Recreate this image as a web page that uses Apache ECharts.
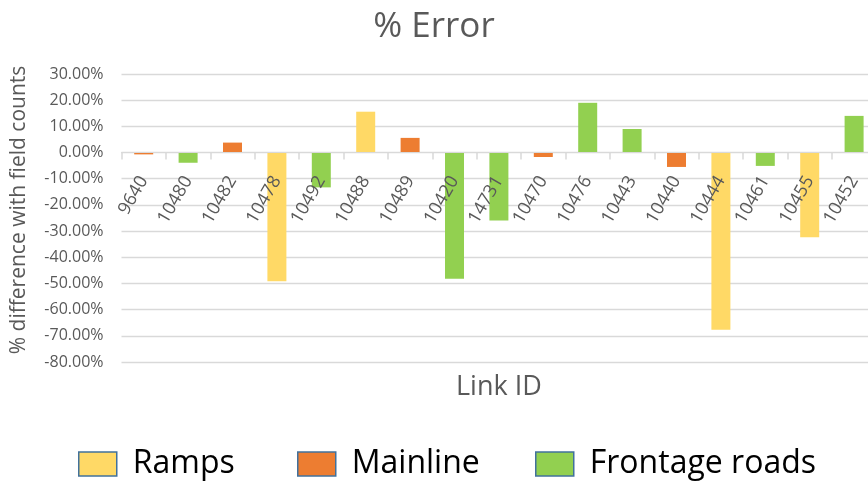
<!DOCTYPE html>
<html>
	<head>
		<meta charset="UTF-8">
		<title>% Error</title>
		<script type="text/javascript" src="https://cdn.jsdelivr.net/npm/echarts@6/dist/echarts.min.js"></script>
	</head>
	<body style="margin:0">
		<div id="main" style="width: 868px;height: 487px;"></div>
		<script type="text/javascript">
			// link ids along the x axis
			var linkIds = ['9640', '10480', '10482', '10478', '10492', '10488', '10489', '10420', '14731',
				'10470', '10476', '10443', '10440', '10444', '10461', '10455', '10452'];
			// road type of each link: R = Ramps, M = Mainline, F = Frontage roads
			var linkTypes = ['M', 'F', 'M', 'R', 'F', 'R', 'M', 'F', 'F', 'M', 'F', 'F', 'M', 'R', 'F', 'R', 'F'];
			// % difference with field counts
			var pctError = [-0.7, -3.9, 3.8, -49.2, -13.3, 15.6, 5.6, -48.2, -26.0,
				-1.7, 19.0, 9.0, -5.5, -67.7, -5.1, -32.4, 14.0];
			var yTicks = [-80, 30, 10]; // min, max, interval

			var typeNames = {R: 'Ramps', M: 'Mainline', F: 'Frontage roads'};
			var typeColors = {R: '#FFD966', M: '#ED7D31', F: '#92D050'};

			function seriesFor(t) {
				var d = [];
				for (var i = 0; i < pctError.length; i++) {
					d.push(linkTypes[i] === t ? pctError[i] : null);
				}
				return {
					name: typeNames[t],
					type: 'bar',
					stack: 'all',
					barWidth: 19,
					itemStyle: {color: typeColors[t]},
					data: d
				};
			}

			// one legend per item so each can sit where the original has it
			function legendFor(name, x) {
				return {
					left: x,
					top: 443,
					itemWidth: 38,
					itemHeight: 24,
					icon: 'rect',
					itemStyle: {borderColor: '#41719C', borderWidth: 1.5},
					textStyle: {fontSize: 32, color: '#000', padding: [0, 0, 0, 11], fontFamily: 'Open Sans'},
					data: [name]
				};
			}

			var myChart = echarts.init(document.getElementById('main'));
			var gray = '#595959';
			// grid spans -80%..30%, so the zero line sits 80/110 of the way up
			var gridTop = 74, gridBottom = 125, plotH = 487 - gridTop - gridBottom;
			var zeroOffset = plotH * (0 - yTicks[0]) / (yTicks[1] - yTicks[0]);

			myChart.setOption({
				animation: false,
				textStyle: {fontFamily: 'Open Sans'},
				title: {
					text: '% Error',
					left: 'center',
					top: 5,
					textStyle: {fontSize: 35, fontWeight: 'normal', color: gray, fontFamily: 'Open Sans'}
				},
				legend: [legendFor('Ramps', 73), legendFor('Mainline', 292), legendFor('Frontage roads', 530)],
				grid: {left: 121.5, right: -8.3, top: gridTop, bottom: gridBottom, containLabel: false, outerBoundsMode: 'none'},
				xAxis: {
					type: 'category',
					data: linkIds,
					position: 'bottom',
					offset: -zeroOffset,
					z: 10,
					name: 'Link ID',
					nameLocation: 'middle',
					nameGap: 221,
					nameTextStyle: {fontSize: 27, color: gray},
					axisLine: {onZero: false, lineStyle: {color: '#d9d9d9', width: 1.2}},
					axisTick: {show: true, length: 7, lineStyle: {color: '#d9d9d9', width: 1.5}},
					axisLabel: {rotate: 60, margin: 25, fontSize: 18, color: gray, interval: 0}
				},
				yAxis: {
					type: 'value',
					min: yTicks[0],
					max: yTicks[1],
					interval: yTicks[2],
					name: '% difference with field counts',
					nameLocation: 'middle',
					nameGap: 92,
					nameTextStyle: {fontSize: 21, color: gray, padding: [0, 0, 0, 16]},
					axisLine: {show: false},
					axisTick: {show: false},
					axisLabel: {
						fontSize: 16, color: gray, margin: 18,
						formatter: function (v) { return v.toFixed(2) + '%'; }
					},
					splitLine: {lineStyle: {color: '#d9d9d9', width: 1.3}}
				},
				series: [seriesFor('R'), seriesFor('M'), seriesFor('F')]
			});
		</script>
	</body>
</html>
